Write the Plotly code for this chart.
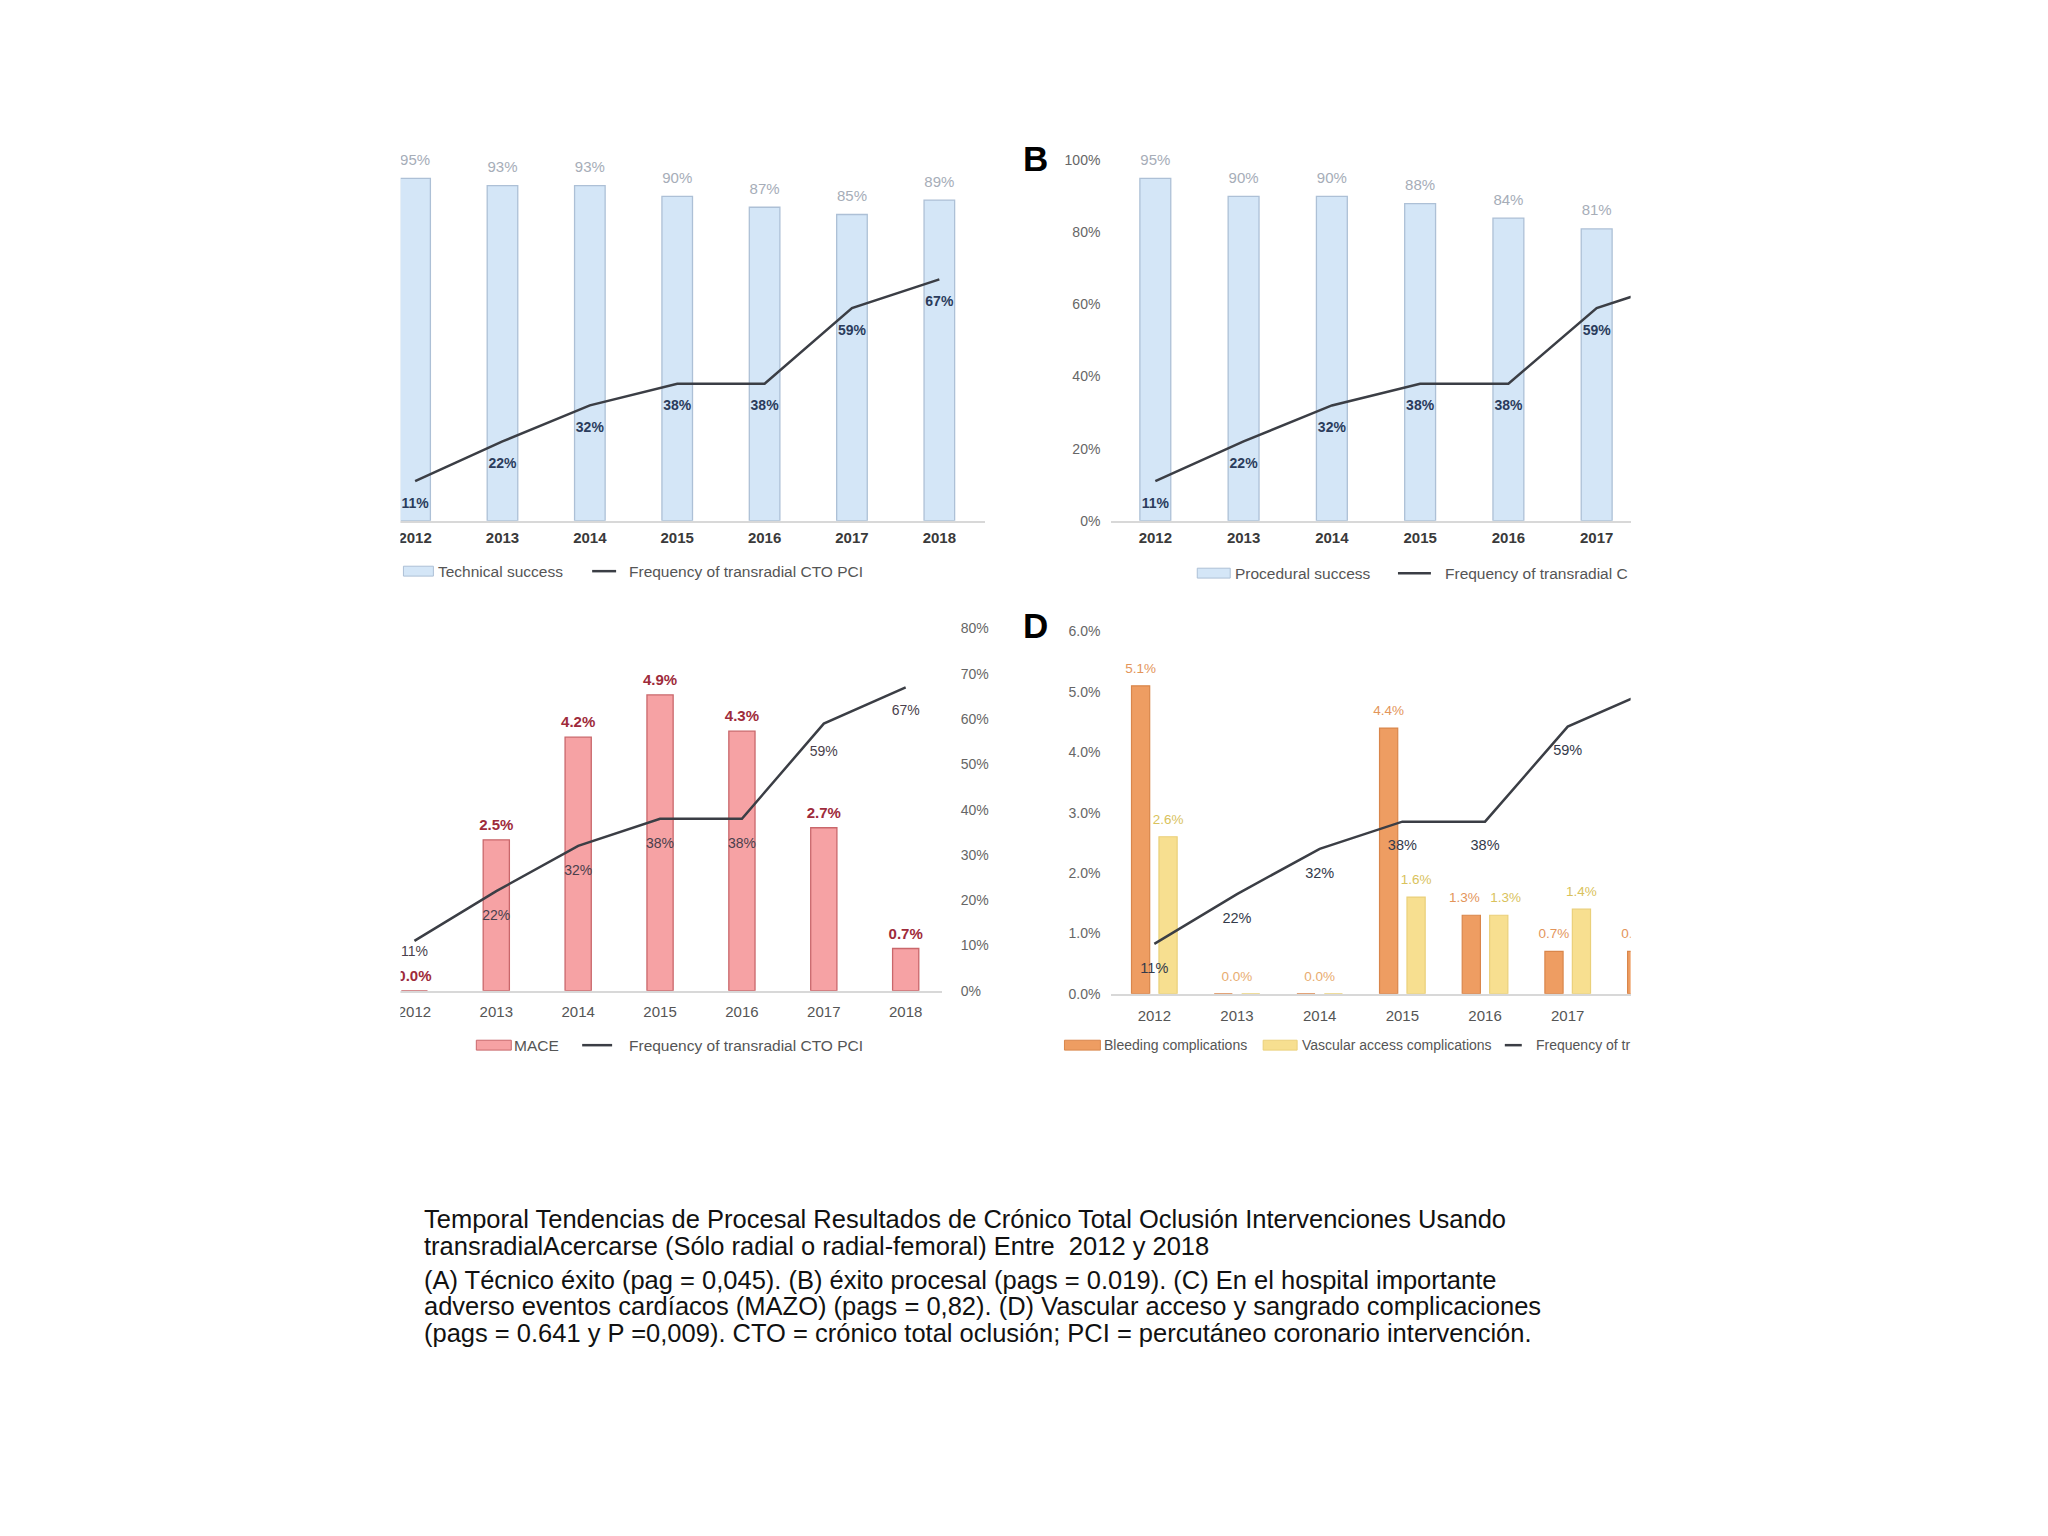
import plotly.graph_objects as go

W, H = 2048, 1536
PAGE_MARGIN = 8  # the browser's default body margin offsets the plot div

# values
years = [2012, 2013, 2014, 2015, 2016, 2017, 2018]
year_labels = ["2012", "2013", "2014", "2015", "2016", "2017", "2018"]
transradial_freq = [11, 22, 32, 38, 38, 59, 67]
technical_success = [95, 93, 93, 90, 87, 85, 89]
procedural_success = [95, 90, 90, 88, 84, 81, None]
mace = [0.0, 2.5, 4.2, 4.9, 4.3, 2.7, 0.7]
bleeding = [5.1, 0.0, 0.0, 4.4, 1.3, 0.7, 0.7]
vascular = [2.6, 0.0, 0.0, 1.6, 1.3, 1.4, None]

ticks_ab = [0, 20, 40, 60, 80, 100]
ticks_ab_text = ["0%", "20%", "40%", "60%", "80%", "100%"]
ticks_c = [0, 10, 20, 30, 40, 50, 60, 70, 80]
ticks_c_text = ["0%", "10%", "20%", "30%", "40%", "50%", "60%", "70%", "80%"]
ticks_d = [0, 1, 2, 3, 4, 5, 6]
ticks_d_text = ["0.0%", "1.0%", "2.0%", "3.0%", "4.0%", "5.0%", "6.0%"]

caption = [
    "Temporal Tendencias de Procesal Resultados de Crónico Total Oclusión Intervenciones Usando",
    "transradialAcercarse (Sólo radial o radial-femoral) Entre  2012 y 2018",
    "(A) Técnico éxito (pag = 0,045). (B) éxito procesal (pags = 0.019). (C) En el hospital importante",
    "adverso eventos cardíacos (MAZO) (pags = 0,82). (D) Vascular acceso y sangrado complicaciones",
    "(pags = 0.641 y P =0,009). CTO = crónico total oclusión; PCI = percutáneo coronario intervención.",
]

FONT = "Liberation Sans, Arial, sans-serif"
LINE_COL = "#3b3e45"
BLUE_FILL, BLUE_EDGE = "#d4e6f7", "#adc0d6"
RED_FILL, RED_EDGE = "#f6a2a4", "#c9676b"
ORANGE_FILL, ORANGE_EDGE = "#ee9d62", "#d9864b"
YELLOW_FILL, YELLOW_EDGE = "#f7df90", "#ead07a"


def fx(p):
    return (p - PAGE_MARGIN) / W


def fy(p):
    return 1 - (p - PAGE_MARGIN) / H


def pct(v, fmt="{:.0f}%"):
    return "" if v is None else fmt.format(v)


def xaxis(anchor, left, right, first, step, font, standoff):
    return dict(anchor=anchor, domain=[fx(left), fx(right)],
                range=[years[0] + (left - first) / step, years[0] + (right - first) / step],
                tickmode="array", tickvals=years, ticktext=year_labels,
                showline=True, linecolor="#d8d8d8", linewidth=1.5,
                showgrid=False, zeroline=False, ticks="", tickfont=font,
                ticklabelstandoff=standoff, fixedrange=True)


def yaxis(bottom, top, rng, **kw):
    d = dict(domain=[fy(bottom), fy(top)], range=rng, showgrid=False, zeroline=False,
             showline=False, ticks="", showticklabels=False, fixedrange=True)
    d.update(kw)
    return d


def labels(xs, ys, texts, xa, ya, pos, size, font):
    # invisible markers only set how far the text sits from the point
    return go.Scatter(x=xs, y=ys, text=texts, mode="markers+text", textposition=pos,
                      marker=dict(size=size, color="rgba(0,0,0,0)", line=dict(width=0)),
                      textfont=font, xaxis=xa, yaxis=ya, hoverinfo="skip",
                      showlegend=False, cliponaxis=True)


def freq_line(xa, ya):
    return go.Scatter(x=years, y=transradial_freq, mode="lines", xaxis=xa, yaxis=ya,
                      line=dict(color=LINE_COL, width=2.5), showlegend=False, hoverinfo="skip")


fig = go.Figure()

# ---- A: technical success
fig.add_trace(go.Bar(x=years, y=technical_success, width=0.35, xaxis="x", yaxis="y",
                     marker=dict(color=BLUE_FILL, line=dict(color=BLUE_EDGE, width=1.3)),
                     showlegend=False))
fig.add_trace(freq_line("x", "y"))
fig.add_trace(labels(years, technical_success, [pct(v) for v in technical_success], "x", "y",
                     "top center", 14, dict(family=FONT, size=15, color="#a6adb8")))
fig.add_trace(labels(years, transradial_freq, [pct(v) for v in transradial_freq], "x", "y",
                     "bottom center", 24, dict(family=FONT, size=14, color="#2b3c5c", weight="bold")))

# ---- B: procedural success
fig.add_trace(go.Bar(x=years, y=procedural_success, width=0.35, xaxis="x2", yaxis="y2",
                     marker=dict(color=BLUE_FILL, line=dict(color=BLUE_EDGE, width=1.3)),
                     showlegend=False))
fig.add_trace(freq_line("x2", "y2"))
fig.add_trace(labels(years, procedural_success, [pct(v) for v in procedural_success], "x2", "y2",
                     "top center", 14, dict(family=FONT, size=15, color="#a6adb8")))
fig.add_trace(labels(years, transradial_freq, [pct(v) for v in transradial_freq], "x2", "y2",
                     "bottom center", 24, dict(family=FONT, size=14, color="#2b3c5c", weight="bold")))

# ---- C: MACE (bars on hidden left axis, frequency on right axis)
fig.add_trace(go.Bar(x=years, y=mace, width=0.32, xaxis="x3", yaxis="y3",
                     marker=dict(color=RED_FILL, line=dict(color=RED_EDGE, width=1.3)),
                     showlegend=False))
fig.add_trace(labels(years, mace, [pct(v, "{:.1f}%") for v in mace], "x3", "y3",
                     "top center", 8, dict(family=FONT, size=15, color="#9e2b3b", weight="bold")))
fig.add_trace(freq_line("x3", "y4"))
# label offsets below the line differ a little per point in the original
fig.add_trace(labels(years, transradial_freq, [pct(v) for v in transradial_freq], "x3", "y4",
                     "bottom center", [6, 28, 28, 28, 28, 34, 26],
                     dict(family=FONT, size=14, color="#4a3f4c")))

# ---- D: bleeding / vascular complications
bar_w = 0.22
half_gap = 0.166
fig.add_trace(go.Bar(x=years, y=bleeding, width=bar_w, offset=-half_gap - bar_w / 2,
                     xaxis="x4", yaxis="y5",
                     marker=dict(color=ORANGE_FILL, line=dict(color=ORANGE_EDGE, width=1.2)),
                     showlegend=False))
fig.add_trace(go.Bar(x=years, y=vascular, width=bar_w, offset=half_gap - bar_w / 2,
                     xaxis="x4", yaxis="y5",
                     marker=dict(color=YELLOW_FILL, line=dict(color=YELLOW_EDGE, width=1.2)),
                     showlegend=False))

lx, ly, lt, lc = [], [], [], []
for yr, b, v in zip(years, bleeding, vascular):
    if b == 0 and v == 0:
        lx.append(yr); ly.append(0); lt.append("0.0%"); lc.append("#e8ac70")
        continue
    # equal pairs get their labels pushed apart so they do not collide
    spread = 0.25 if b == v else half_gap
    if b is not None:
        lx.append(yr - spread); ly.append(b); lt.append(pct(b, "{:.1f}%")); lc.append("#e3955a")
    if v is not None:
        lx.append(yr + spread); ly.append(v); lt.append(pct(v, "{:.1f}%")); lc.append("#d9c25c")
fig.add_trace(labels(lx, ly, lt, "x4", "y5", "top center", 14,
                     dict(family=FONT, size=13.5, color=lc)))
fig.add_trace(freq_line("x4", "y6"))
fig.add_trace(labels(years, transradial_freq, [pct(v) for v in transradial_freq], "x4", "y6",
                     "bottom center", 27, dict(family=FONT, size=14.5, color="#333a4a")))

tick_ab = dict(family=FONT, size=15, color="#3a3a3a", weight="bold")
tick_cd = dict(family=FONT, size=15, color="#555555")
axis_lab = dict(family=FONT, size=14, color="#666666")

fig.update_layout(
    width=W, height=H, margin=dict(l=0, r=0, t=0, b=0),
    paper_bgcolor="white", plot_bgcolor="rgba(0,0,0,0)",
    barmode="overlay", showlegend=False,
    xaxis=xaxis("y", 398, 983, 412.7, 87.5, tick_ab, 3),
    yaxis=yaxis(518, 139.4, [0, 104], anchor="x"),
    xaxis2=xaxis("y2", 1110, 1630, 1154, 88.4, tick_ab, 3),
    yaxis2=yaxis(518, 139.4, [0, 104], anchor="x2", showticklabels=True,
                 tickmode="array", tickvals=ticks_ab, ticktext=ticks_ab_text,
                 tickfont=axis_lab, ticklabelstandoff=10),
    xaxis3=xaxis("y3", 398, 940, 412, 82, tick_cd, 7),
    yaxis3=yaxis(993, 627, [0, 6], anchor="x3"),
    yaxis4=dict(overlaying="y3", side="right", anchor="x3", range=[0, 80],
                tickmode="array", tickvals=ticks_c, ticktext=ticks_c_text,
                tickfont=axis_lab, ticks="",
                showgrid=False, zeroline=False, showline=False, ticklabelstandoff=18,
                fixedrange=True),
    xaxis4=xaxis("y5", 1110, 1630, 1153, 82.8, tick_cd, 8),
    yaxis5=yaxis(996, 630, [0, 6], anchor="x4", showticklabels=True,
                 tickmode="array", tickvals=ticks_d, ticktext=ticks_d_text,
                 tickfont=axis_lab, ticklabelstandoff=10),
    yaxis6=dict(overlaying="y5", side="right", anchor="x4", range=[0, 80],
                showticklabels=False, showgrid=False, zeroline=False, showline=False,
                fixedrange=True),
)

# crop of the original figure on the left side
shapes = [dict(type="rect", xref="paper", yref="paper", x0=0, x1=fx(398), y0=fy(1100), y1=fy(100),
               fillcolor="white", line=dict(width=0), layer="above")]
annotations = []


def legend_box(x0, x1, yc, fill, edge):
    shapes.append(dict(type="rect", xref="paper", yref="paper", x0=fx(x0), x1=fx(x1),
                       y0=fy(yc + 5), y1=fy(yc - 5), fillcolor=fill, line=dict(color=edge, width=1)))


def legend_line(x0, x1, yc):
    shapes.append(dict(type="line", xref="paper", yref="paper", x0=fx(x0), x1=fx(x1),
                       y0=fy(yc), y1=fy(yc), line=dict(color=LINE_COL, width=2.5)))


def legend_text(x, yc, text, size):
    annotations.append(dict(xref="paper", yref="paper", x=fx(x), y=fy(yc), text=text,
                            xanchor="left", yanchor="middle", showarrow=False,
                            font=dict(family=FONT, size=size, color="#555555")))


# A legend
legend_box(401, 431, 569, BLUE_FILL, BLUE_EDGE)
legend_text(434, 569, "Technical success", 15.5)
legend_line(590, 614, 569)
legend_text(625, 569, "Frequency of transradial CTO PCI", 15.5)
# B legend
legend_box(1196, 1229, 571, BLUE_FILL, BLUE_EDGE)
legend_text(1232, 571, "Procedural success", 15.5)
legend_line(1397, 1430, 571)
legend_text(1442, 571, "Frequency of transradial C", 15.5)
# C legend
legend_box(474, 509, 1048, RED_FILL, RED_EDGE)
legend_text(510, 1048, "MACE", 15.5)
legend_line(580, 610, 1048)
legend_text(625, 1048, "Frequency of transradial CTO PCI", 15.5)
# D legend
legend_box(1063, 1099, 1048, ORANGE_FILL, ORANGE_EDGE)
legend_text(1101, 1048, "Bleeding complications", 14)
legend_box(1262, 1296, 1048, YELLOW_FILL, YELLOW_EDGE)
legend_text(1299, 1048, "Vascular access complications", 14)
legend_line(1504, 1521, 1048)
legend_text(1533, 1048, "Frequency of tr", 14)

# panel letters
for letter, xc, yc in [("B", 1034, 152), ("D", 1034, 624)]:
    annotations.append(dict(xref="paper", yref="paper", x=fx(xc), y=fy(yc), text="<b>%s</b>" % letter,
                            xanchor="center", yanchor="middle", showarrow=False,
                            font=dict(family=FONT, size=35, color="black")))

# caption below the panels
for line, yc in zip(caption, [1224, 1251, 1285, 1312, 1339]):
    annotations.append(dict(xref="paper", yref="paper", x=fx(421), y=fy(yc), text=line,
                            xanchor="left", yanchor="middle", showarrow=False, borderpad=0,
                            font=dict(family=FONT, size=25.5, color="#111111")))

fig.update_layout(shapes=shapes, annotations=annotations)

fig.write_html("out.html")
